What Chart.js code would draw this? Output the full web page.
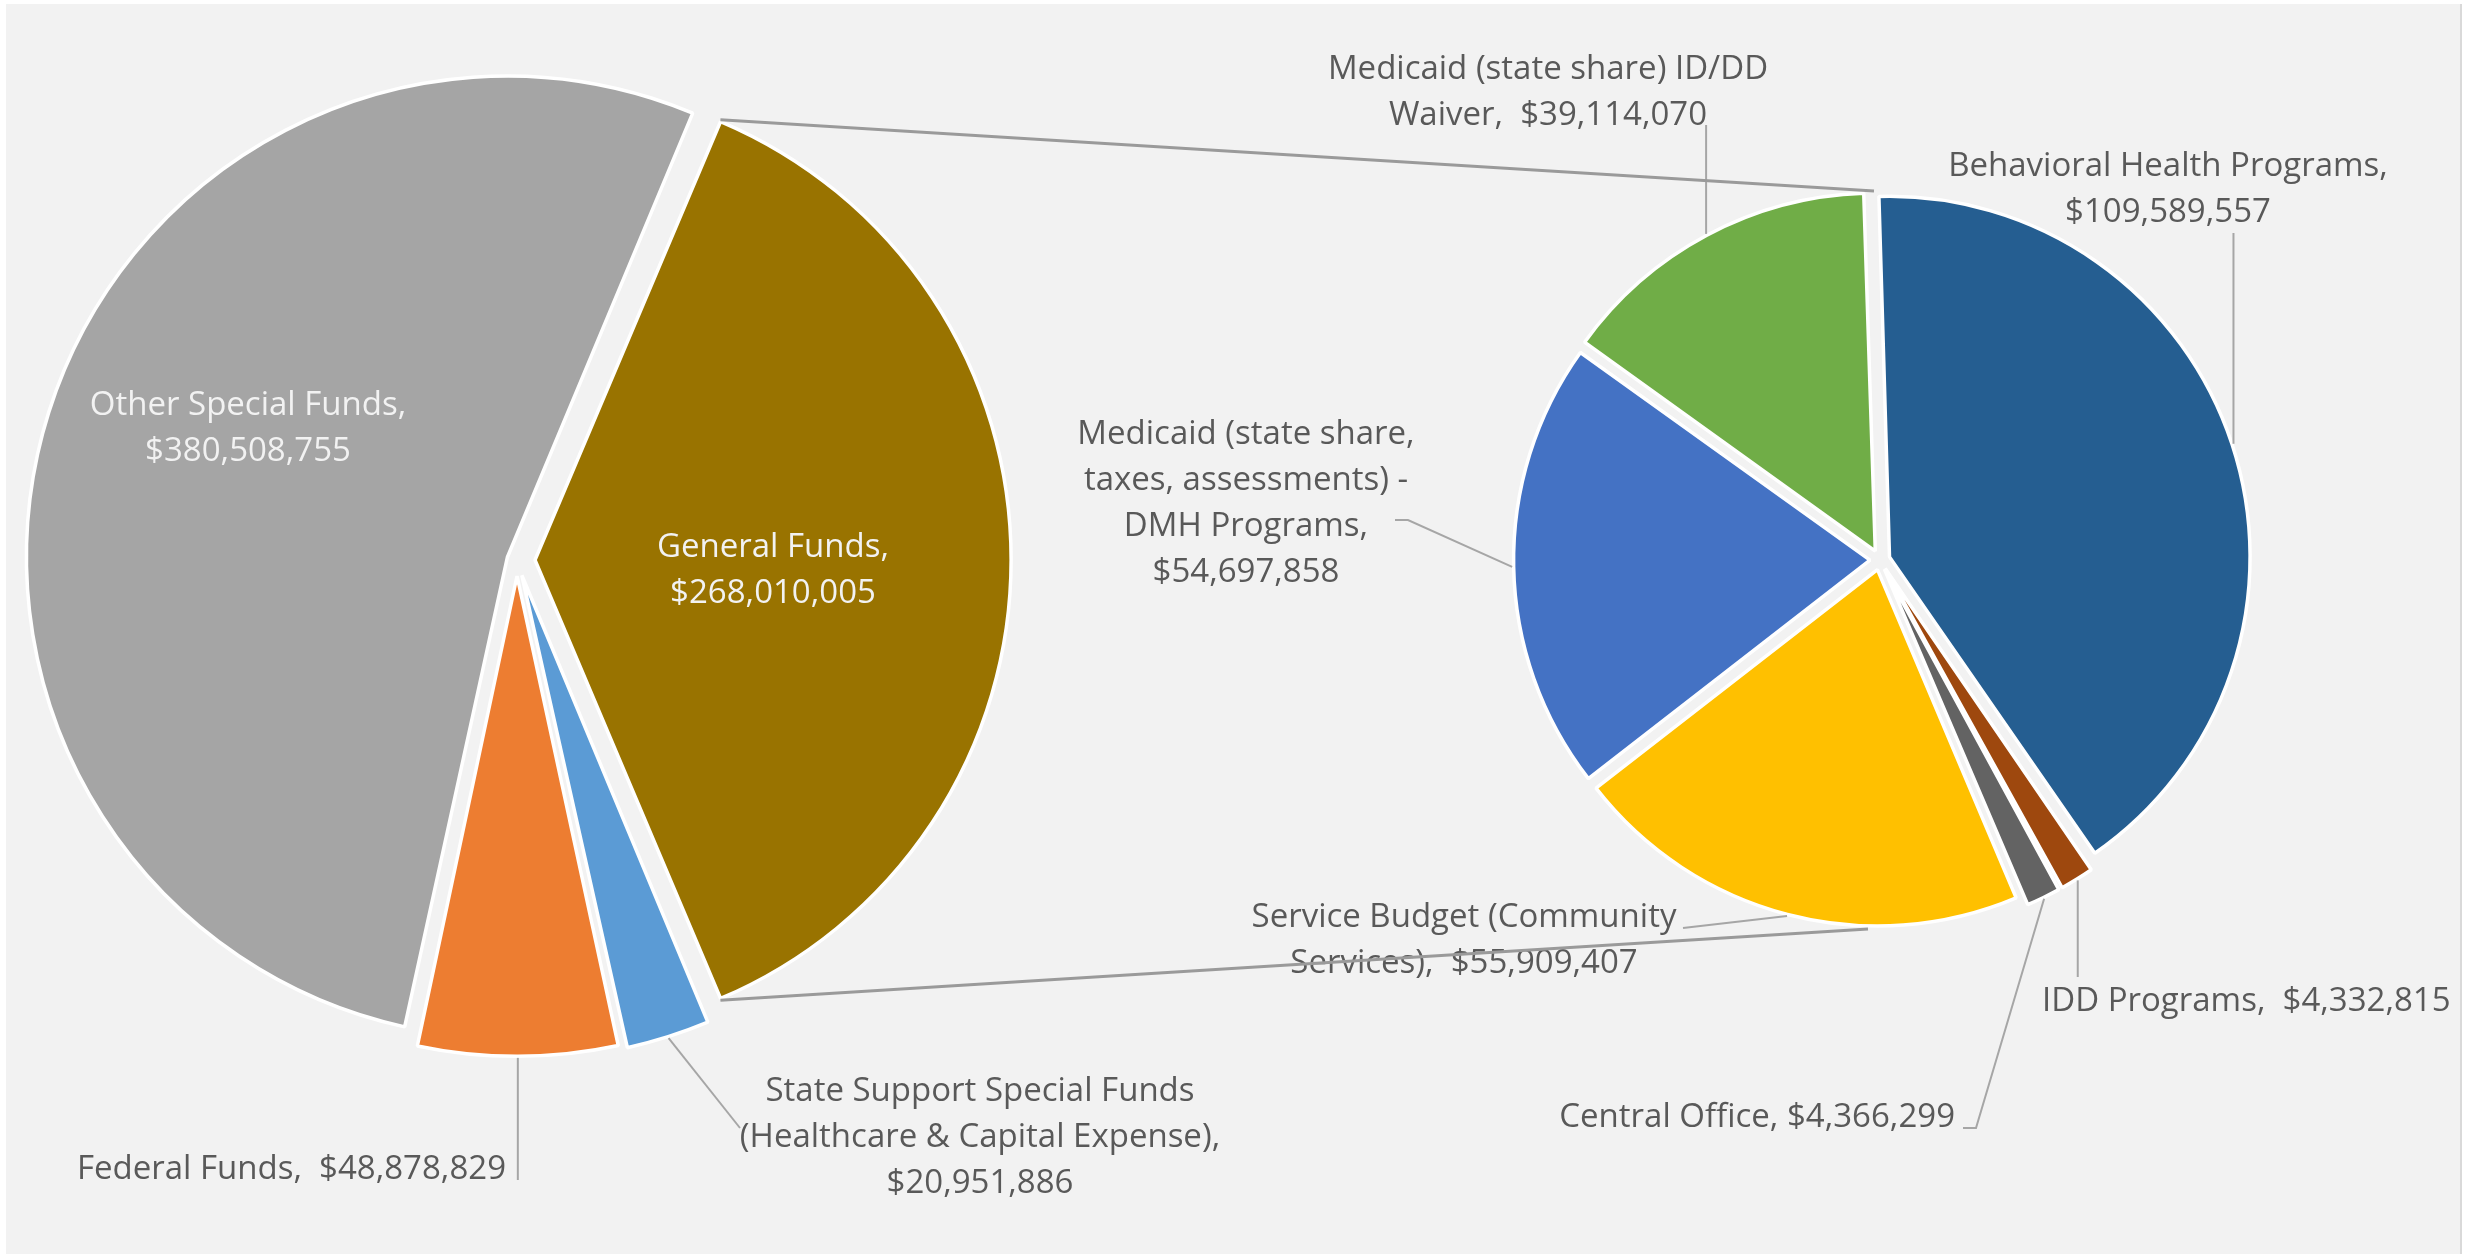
<!DOCTYPE html>
<html lang="en">
<head>
  <meta charset="UTF-8">
  <title>Funding Sources and General Funds Breakdown</title>
  <script src="https://cdn.jsdelivr.net/npm/chart.js"></script>
  <style>
    html, body {
      margin: 0;
      padding: 0;
      background: #ffffff;
    }
    body {
      width: 2469px;
      height: 1254px;
      position: relative;
      overflow: hidden;
    }
    .frame {
      position: absolute;
      left: 6px;
      top: 4px;
      width: 2454px;
      height: 1250px;
      background: #f2f2f2;
      border-right: 2px solid #d9d9d9;
    }
    canvas {
      position: absolute;
      left: 0;
      top: 0;
    }
  </style>
</head>
<body>
  <div class="frame"></div>
  <canvas id="fundsChart" width="2469" height="1254"></canvas>
  <canvas id="generalChart" width="2469" height="1254"></canvas>

  <script>
    // first pie: all funding sources (General Funds is split out on the right)
    const fundNames = ['General Funds', 'State Support Special Funds (Healthcare & Capital Expense)', 'Federal Funds', 'Other Special Funds'];
    const fundValues = [268010005, 20951886, 48878829, 380508755];
    const fundColors = ['#997300', '#5b9bd5', '#ed7d31', '#a5a5a5'];

    // second pie: General Funds breakdown
    const generalNames = ['Behavioral Health Programs', 'IDD Programs', 'Central Office', 'Service Budget (Community Services)', 'Medicaid (state share, taxes, assessments) - DMH Programs', 'Medicaid (state share) ID/DD Waiver'];
    const generalValues = [109589557, 4332815, 4366299, 55909407, 54697858, 39114070];
    const generalColors = ['#255e91', '#9e480e', '#636363', '#ffc000', '#4472c4', '#70ad47'];

    // label placement (lines = words per line, path = leader line points after the slice edge)
    const fundLabels = [
      { x: 773, y: 548, align: 'center', lines: [2, 1], color: '#f2f2f2' },
      { x: 980, y: 1092, align: 'center', lines: [4, 4, 1], path: [[740, 1128]] },
      { x: 506, y: 1170, align: 'right', lines: [3], sep: '  ', path: [[null, 1180]] },
      { x: 248, y: 406, align: 'center', lines: [3, 1], color: '#f2f2f2' }
    ];
    const generalLabels = [
      { x: 2168, y: 167, align: 'center', lines: [3, 1], path: [[null, 233]] },
      { x: 2042, y: 1002, align: 'left', lines: [3], sep: '  ', path: [[null, 977]] },
      { x: 1955, y: 1118, align: 'right', lines: [3], path: [[1976, 1128], [1963, 1128]] },
      { x: 1464, y: 918, align: 'center', lines: [3, 2], sep: '  ', path: [[1683, 928]] },
      { x: 1246, y: 435, align: 'center', lines: [3, 3, 2, 1], path: [[1408, 520], [1395, 520]] },
      { x: 1548, y: 70, align: 'center', lines: [4, 2], sep: '  ', path: [[null, 125]] }
    ];

    const FONT = '33px "Open Sans"';
    const LINE_H = 46;
    const TEXT_COLOR = '#595959';
    const LEADER_COLOR = '#a6a6a6';

    function money(v) {
      return '$' + v.toLocaleString('en-US');
    }

    function labelLines(name, value, spec) {
      const words = name.split(' ');
      words[words.length - 1] += ',';
      words.push(money(value));
      const out = [];
      let i = 0;
      spec.lines.forEach(n => {
        const chunk = words.slice(i, i + n);
        i += n;
        if (i === words.length && n > 1) {
          out.push(chunk.slice(0, -1).join(' ') + (spec.sep || ' ') + chunk[chunk.length - 1]);
        } else {
          out.push(chunk.join(' '));
        }
      });
      return out;
    }

    // where the exploded arc is actually drawn (chart.js v4 arc offset handling)
    function arcGeom(arc) {
      const p = arc.getProps(['x', 'y', 'startAngle', 'endAngle', 'outerRadius', 'circumference']);
      const t = (arc.options.offset || 0) / 4;
      const fix = 1 - Math.sin(Math.min(Math.PI, p.circumference || 0));
      const mid = (p.startAngle + p.endAngle) / 2;
      return {
        cx: p.x + Math.cos(mid) * t,
        cy: p.y + Math.sin(mid) * t,
        r: p.outerRadius + t * fix,
        start: p.startAngle,
        end: p.endAngle,
        mid: mid
      };
    }

    function pointAt(g, angle, extra) {
      const r = g.r + (extra || 0);
      return [g.cx + Math.cos(angle) * r, g.cy + Math.sin(angle) * r];
    }

    function makeLabelPlugin(names, values, specs) {
      return {
        id: 'sliceLabels',
        afterDatasetsDraw(chart) {
          const ctx = chart.ctx;
          const arcs = chart.getDatasetMeta(0).data;
          ctx.save();
          specs.forEach((spec, i) => {
            if (spec.path) {
              const g = arcGeom(arcs[i]);
              let [px, py] = pointAt(g, g.mid, 1.5);
              ctx.beginPath();
              ctx.moveTo(px, py);
              spec.path.forEach(pt => {
                px = pt[0] === null ? px : pt[0];
                py = pt[1];
                ctx.lineTo(px, py);
              });
              ctx.strokeStyle = LEADER_COLOR;
              ctx.lineWidth = 2;
              ctx.stroke();
            }
            ctx.font = FONT;
            ctx.fillStyle = spec.color || TEXT_COLOR;
            ctx.textAlign = spec.align;
            ctx.textBaseline = 'middle';
            labelLines(names[i], values[i], spec).forEach((line, k) => {
              ctx.fillText(line, spec.x, spec.y + k * LINE_H);
            });
          });
          ctx.restore();
        }
      };
    }

    const fundTotal = fundValues.reduce((a, b) => a + b, 0);

    const fundsChart = new Chart(document.getElementById('fundsChart'), {
      type: 'pie',
      data: {
        labels: fundNames,
        datasets: [{
          data: fundValues,
          backgroundColor: fundColors,
          borderColor: '#ffffff',
          borderWidth: 3.5,
          offset: [72, 64, 64, 40],
          // General Funds slice centred on the right side, like Excel's pie of pie
          rotation: 90 - 180 * fundValues[0] / fundTotal,
          radius: 471
        }]
      },
      options: {
        responsive: false,
        animation: false,
        events: [],
        layout: { padding: { left: 0, right: 1435, top: 0, bottom: 134 } },
        plugins: {
          legend: { display: false },
          tooltip: { enabled: false }
        }
      },
      plugins: [makeLabelPlugin(fundNames, fundValues, fundLabels)]
    });

    // lines joining the General Funds slice to the breakdown pie
    const connectorPlugin = {
      id: 'connectors',
      afterDatasetsDraw(chart) {
        const g = arcGeom(fundsChart.getDatasetMeta(0).data[0]);
        const a = pointAt(g, g.start, 1.5);
        const b = pointAt(g, g.end, 1.5);
        const first = chart.getDatasetMeta(0).data[0];
        const p = first.getProps(['x', 'y', 'outerRadius']);
        const gap = (first.options.offset || 0) / 4 + 3;
        const ctx = chart.ctx;
        ctx.save();
        ctx.strokeStyle = '#9a9a9a';
        ctx.lineWidth = 3;
        ctx.beginPath();
        ctx.moveTo(a[0], a[1]);
        ctx.lineTo(p.x - 6, p.y - p.outerRadius - gap);
        ctx.moveTo(b[0], b[1]);
        ctx.lineTo(p.x - 12, p.y + p.outerRadius + gap);
        ctx.stroke();
        ctx.restore();
      }
    };

    const generalChart = new Chart(document.getElementById('generalChart'), {
      type: 'pie',
      data: {
        labels: generalNames,
        datasets: [{
          data: generalValues,
          backgroundColor: generalColors,
          borderColor: '#ffffff',
          borderWidth: 3.5,
          offset: 40,
          rotation: -1.8,
          radius: 356
        }]
      },
      options: {
        responsive: false,
        animation: false,
        events: [],
        layout: { padding: { left: 1380, right: 89, top: 60, bottom: 194 } },
        plugins: {
          legend: { display: false },
          tooltip: { enabled: false }
        }
      },
      plugins: [makeLabelPlugin(generalNames, generalValues, generalLabels), connectorPlugin]
    });
  </script>
</body>
</html>
